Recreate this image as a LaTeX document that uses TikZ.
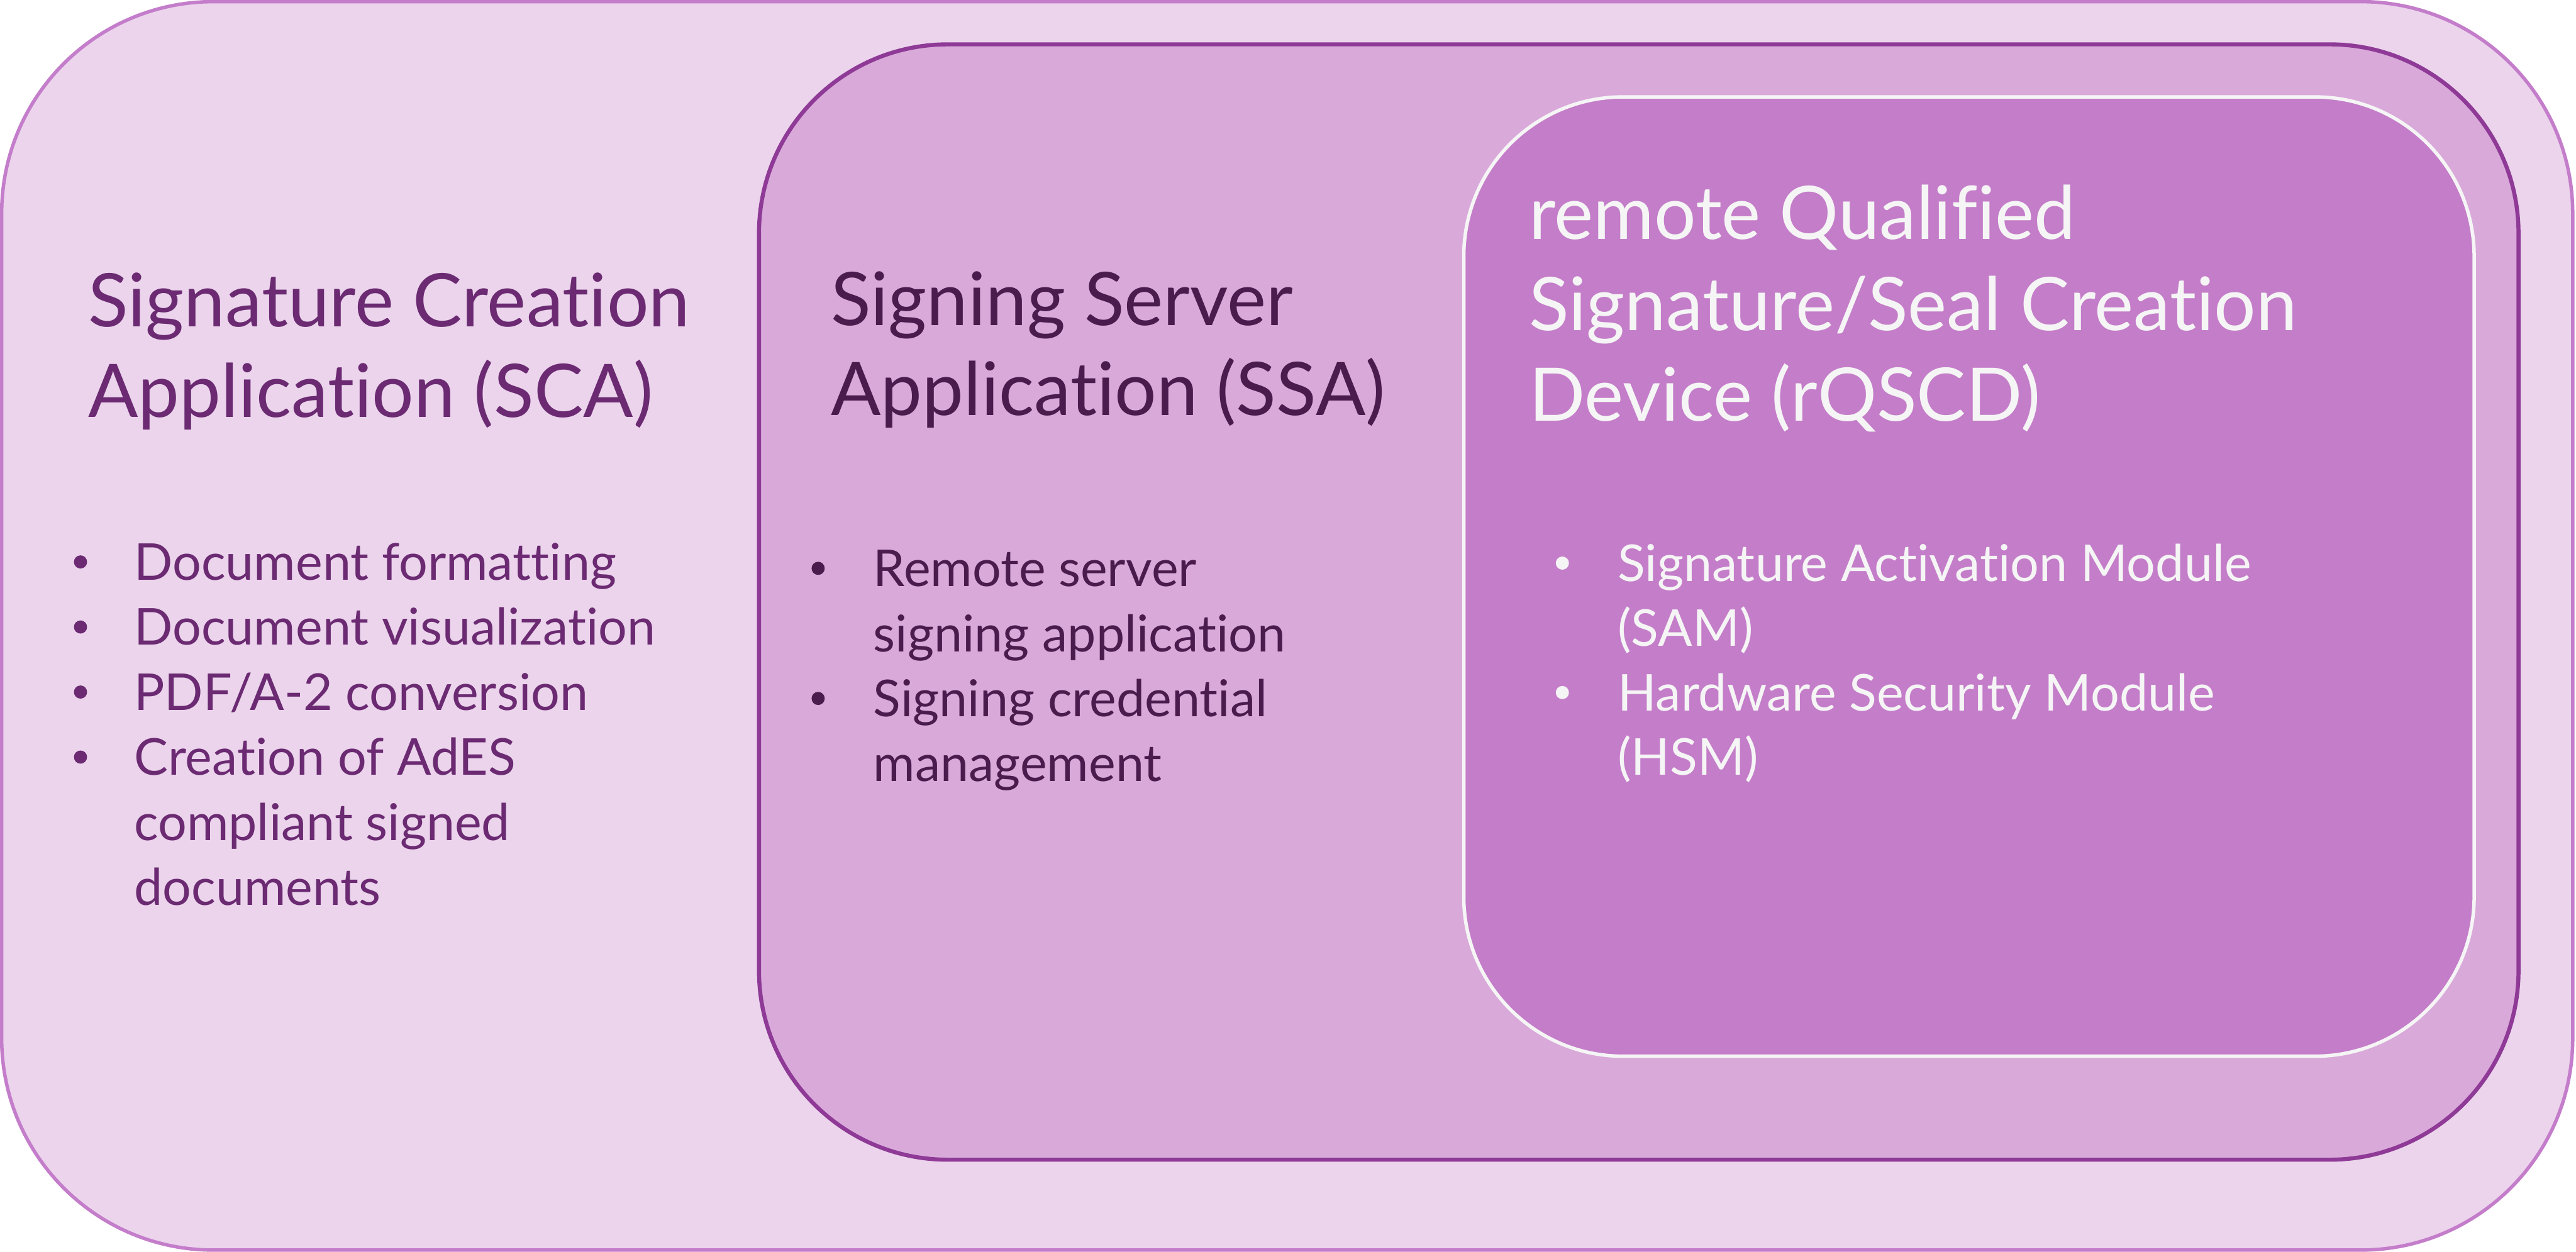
\documentclass[tikz,border=0pt]{standalone}
\usepackage{fontspec}
\setmainfont{Lato}[Ligatures=CommonOff]
\definecolor{scafill}{HTML}{EBD4EC}
\definecolor{scaline}{HTML}{C47DCA}
\definecolor{scatext}{HTML}{6B2A72}
\definecolor{ssafill}{HTML}{D9A9DA}
\definecolor{ssaline}{HTML}{8E3A96}
\definecolor{ssatext}{HTML}{4A1C4E}
\definecolor{qscdfill}{HTML}{C47DC9}
\definecolor{qscdline}{HTML}{F5F5F5}
\begin{document}
\begin{tikzpicture}[x=0.1mm, y=-0.1mm,
  title/.style={anchor=base west, inner sep=0pt, font=\fontsize{12.8}{15}\selectfont},
  item/.style={anchor=base west, inner sep=0pt, font=\fontsize{8.8}{11}\selectfont}]
  \useasboundingbox (0,0) rectangle (1568,762);
  \draw[fill=scafill, draw=scaline, line width=0.6pt, rounded corners=12.9mm] (1,1) rectangle (1566,761);
  \draw[fill=ssafill, draw=ssaline, line width=0.7pt, rounded corners=11.5mm] (462,27) rectangle (1533,706);
  \draw[fill=qscdfill, draw=qscdline, line width=0.6pt, rounded corners=9.7mm] (891,59) rectangle (1506,643);

  \foreach \t [count=\i] in {Signature Creation, Application (SCA)}
    \node[title, text=scatext] (sca-t\i) at (53, 144+55*\i) {\t};
  \foreach \t [count=\i] in {Document formatting, Document visualization, PDF/A-2 conversion,
                             Creation of AdES, compliant signed, documents}
    \node[item, text=scatext] (sca-l\i) at (81, 313.5+39.6*\i) {\t};
  \foreach \i in {1,...,4} \fill[scatext] (49, 302.5+39.6*\i) circle (4);

  \foreach \t [count=\i] in {Signing Server, Application (SSA)}
    \node[title, text=ssatext] (ssa-t\i) at (505, 143+55*\i) {\t};
  \foreach \t [count=\i] in {Remote server, signing application, Signing credential, management}
    \node[item, text=ssatext] (ssa-l\i) at (531, 317.4+39.6*\i) {\t};
  \foreach \i in {1,3} \fill[ssatext] (498, 306.4+39.6*\i) circle (4);

  \foreach \t [count=\i] in {remote Qualified, Signature/Seal Creation, Device (rQSCD)}
    \node[title, text=qscdline] (qscd-t\i) at (930, 90.5+55.3*\i) {\t};
  \foreach \t [count=\i] in {Signature Activation Module, (SAM), Hardware Security Module, (HSM)}
    \node[item, text=qscdline] (qscd-l\i) at (984, 314.4+39.4*\i) {\t};
  \foreach \i in {1,3} \fill[qscdline] (951, 303.4+39.4*\i) circle (4);
\end{tikzpicture}
\end{document}
